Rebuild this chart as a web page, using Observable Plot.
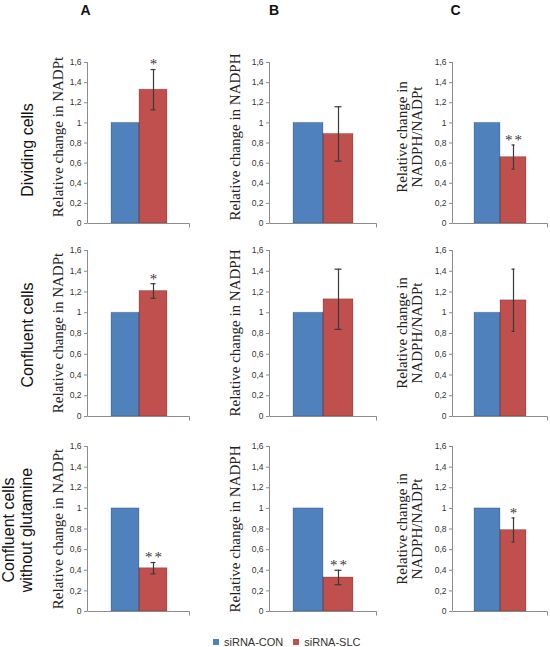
<!DOCTYPE html>
<html>
<head>
<meta charset="utf-8">
<script src="https://cdn.jsdelivr.net/npm/d3@7"></script>
<script src="https://cdn.jsdelivr.net/npm/@observablehq/plot@0.6"></script>
<style>
  body { margin: 0; background: #fff; }
  #root { position: relative; width: 550px; height: 647px; overflow: hidden; font-family: "Liberation Sans", Arial, sans-serif; }
  .abs { position: absolute; white-space: pre; line-height: 1; }
  .rot { transform: translate(-50%, -50%) rotate(-90deg); text-align: center; }
  .ctr { transform: translate(-50%, -50%); text-align: center; }
  .panel { position: absolute; }
  .panel g[font-size="15"] text { letter-spacing: 2px; }
  .legend { position: absolute; display: flex; align-items: center; font-size: 11px; color: #333; }
  .sw { display: inline-block; width: 6px; height: 6px; margin-right: 5px; }
</style>
</head>
<body>
<div id="root"></div>
<script>
// ---- data ----
const columnLetters = ["A", "B", "C"];
const rowLabels = ["Dividing cells", "Confluent cells", "Confluent cells\nwithout glutamine"];
const yTitles = ["Relative change in NADPt", "Relative change in NADPH", "Relative change in\nNADPH/NADPt"];
const series = ["siRNA-CON", "siRNA-SLC"];
const conValues = [[1, 1, 1], [1, 1, 1], [1, 1, 1]];
const slcValues = [[1.33, 0.89, 0.66], [1.21, 1.13, 1.12], [0.42, 0.33, 0.79]];
const slcErrors = [[0.20, 0.27, 0.12], [0.07, 0.29, 0.30], [0.055, 0.07, 0.117]];
const stars = [["*", "", "**"], ["*", "", ""], ["**", "**", "*"]];
const yTicks = [0, 0.2, 0.4, 0.6, 0.8, 1, 1.2, 1.4, 1.6];

// ---- style / layout ----
const colors = ["#4F81BD", "#C0504D"];
const axisColor = "#8c8c8c";
const errColor = "#3a3a3a";
const colAxisX = [87, 269, 452];
const colFrameW = [103, 108, 96];
const rowTop = [62, 249.5, 446];
const rowFrameH = [161, 166, 165];
const colTitleDX = [-29, -34, -42];
const rowTitleY = [137, 333, 529];

const root = document.getElementById("root");
const fmt = d => String(d).replace(".", ",");

function addText(txt, css, cls) {
  const el = document.createElement("div");
  el.className = "abs " + cls;
  el.textContent = txt;
  Object.assign(el.style, css);
  root.appendChild(el);
  return el;
}

function frameLines(index, scales, values, dimensions) {
  const {width, marginLeft, marginRight} = dimensions;
  const x0 = marginLeft + 0.5, x1 = width - marginRight - 0.5;
  const y0 = Math.round(scales.y(0)) + 0.5, yTop = scales.y(1.6);
  const g = d3.create("svg:g").attr("stroke", axisColor).attr("stroke-width", 1).attr("fill", "none");
  g.append("line").attr("x1", x0).attr("x2", x0).attr("y1", y0).attr("y2", yTop);
  g.append("line").attr("x1", x0).attr("x2", x1).attr("y1", y0).attr("y2", y0);
  g.append("line").attr("x1", x1).attr("x2", x1).attr("y1", y0).attr("y2", y0 + 4);
  return g.node();
}

function panel(r, c) {
  const mL = 32, mT = 24, mR = 6, mB = 8;
  const data = series.map((s, i) => ({
    series: s,
    value: i === 0 ? conValues[r][c] : slcValues[r][c],
    err: i === 0 ? null : slcErrors[r][c],
    star: i === 0 ? "" : stars[r][c]
  }));
  const slc = data.filter(d => d.err != null);
  const lo = d => d.value - d.err, hi = d => d.value + d.err;
  const chart = Plot.plot({
    width: mL + colFrameW[c] + mR,
    height: mT + rowFrameH[r] + mB,
    marginLeft: mL, marginTop: mT, marginRight: mR, marginBottom: mB,
    style: {background: "transparent", overflow: "visible", fontFamily: "'Liberation Sans', Arial, sans-serif"},
    x: {type: "band", domain: series, paddingInner: 0, paddingOuter: 0.78, axis: null},
    y: {domain: [0, 1.6]},
    color: {domain: series, range: colors},
    marks: [
      Plot.axisY({ticks: yTicks, tickFormat: fmt, tickSize: 3, tickPadding: 3, fontSize: 8.5, label: null, fill: "#333", stroke: axisColor}),
      Plot.barY(data, {x: "series", y: "value", fill: "series"}),
      Plot.barY(data, {x: "series", y: "value", fill: "none", stroke: "#000", strokeOpacity: 0.18, strokeWidth: 1}),
      Plot.ruleX(slc, {x: "series", y1: lo, y2: hi, stroke: errColor, strokeWidth: 1.2}),
      Plot.tickY(slc, {x: "series", y: lo, stroke: errColor, strokeWidth: 1.2, insetLeft: 11.5, insetRight: 11.5}),
      Plot.tickY(slc, {x: "series", y: hi, stroke: errColor, strokeWidth: 1.2, insetLeft: 11.5, insetRight: 11.5}),
      Plot.text(slc.filter(d => d.star), {x: "series", y: hi, text: "star", dy: -5, dx: 1, lineAnchor: "middle", fontSize: 15, fontFamily: "'Liberation Serif', 'Times New Roman', serif", fill: "#3a3a3a"}),
      frameLines
    ]
  });
  chart.classList.add("panel");
  chart.style.left = (colAxisX[c] - mL) + "px";
  chart.style.top = (rowTop[r] - mT) + "px";
  root.appendChild(chart);
}

for (let r = 0; r < 3; r++) for (let c = 0; c < 3; c++) panel(r, c);

// column letters
const letterX = [85.5, 274, 455.5];
columnLetters.forEach((L, c) => addText(L, {left: letterX[c] + "px", top: "10px", fontSize: "14px", fontWeight: "bold", color: "#111"}, "ctr"));

// row labels
const rowLabelX = [28, 28, 18];
const rowLabelY = [150, 335, 530];
rowLabels.forEach((t, r) => addText(t, {left: rowLabelX[r] + "px", top: rowLabelY[r] + "px", fontSize: "16px", lineHeight: "1.15", color: "#111"}, "rot"));

// y titles
for (let r = 0; r < 3; r++) for (let c = 0; c < 3; c++) {
  addText(yTitles[c], {left: (colAxisX[c] + colTitleDX[c]) + "px", top: rowTitleY[r] + "px", fontSize: "15px", lineHeight: "1", fontFamily: "'Liberation Serif', 'Times New Roman', serif", color: "#222"}, "rot");
}

// legend
const leg = document.createElement("div");
leg.className = "legend";
leg.style.left = "213px";
leg.style.top = "636px";
series.forEach((s, i) => {
  const item = document.createElement("span");
  item.style.display = "inline-flex";
  item.style.alignItems = "center";
  item.style.marginRight = i === 0 ? "10px" : "0";
  const sw = document.createElement("span");
  sw.className = "sw";
  sw.style.background = colors[i];
  item.appendChild(sw);
  item.appendChild(document.createTextNode(s));
  leg.appendChild(item);
});
root.appendChild(leg);
</script>
</body>
</html>
